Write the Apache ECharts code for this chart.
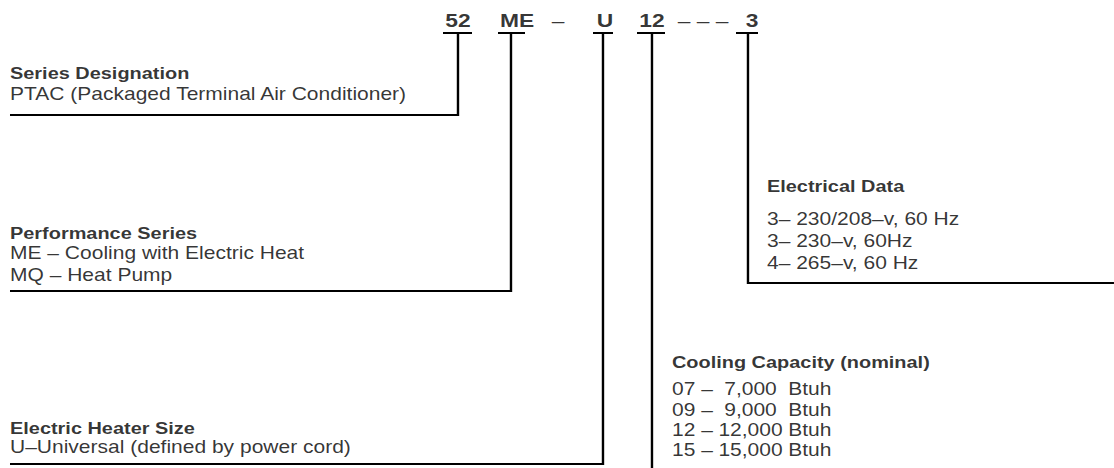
<!DOCTYPE html>
<html>
<head>
<meta charset="utf-8">
<title>PTAC model number nomenclature</title>
<script src="https://cdn.jsdelivr.net/npm/echarts@6/dist/echarts.min.js"></script>
<style>
  html, body { margin: 0; padding: 0; background: #fff; overflow: hidden; }
  #wrap { width: 1114px; height: 468px; overflow: hidden; }
  /* the source artwork is set a little wide, so the chart is drawn narrower and stretched */
  #main { width: 928px; height: 468px; transform: scaleX(1.2004); transform-origin: 0 0; }
</style>
</head>
<body>
<div id="wrap"><div id="main"></div></div>
<script>
// model number, top row
var codeParts = ['52', 'ME', '–', 'U', '12', '– – –', '3'];
var codeBold = [true, true, false, true, true, false, true];

// description blocks
var blockTitles = ['Series Designation', 'Performance Series', 'Electric Heater Size', 'Electrical Data', 'Cooling Capacity (nominal)'];
var seriesLines = ['PTAC (Packaged Terminal Air Conditioner)'];
var performanceLines = ['ME – Cooling with Electric Heat', 'MQ – Heat Pump'];
var heaterLines = ['U–Universal (defined by power cord)'];
var electricalLines = ['3– 230/208–v, 60 Hz', '3– 230–v, 60Hz', '4– 265–v, 60 Hz'];
var capacityCodes = ['07', '09', '12', '15'];
var capacityBtuh = ['7,000', '9,000', '12,000', '15,000'];

// ---- layout (axis units = page pixels) ----
var W = 1114, H = 468;
var FONT = '"Liberation Sans", Arial, Helvetica, sans-serif';
var BODY = 17.5, HEAD = 16.6;
var codeY = 20, barY = 33;
var codeX = [458, 517, 558, 605, 652, 703, 752];
var leaders = [
  { stem: 458, bar: [443, 472], elbow: 115, end: 10 },
  { stem: 511, bar: [498, 525], elbow: 291, end: 10 },
  { stem: 603, bar: [593, 613], elbow: 464, end: 10 },
  { stem: 652, bar: [637, 665], elbow: 472, end: 652 },
  { stem: 748, bar: [736, 758], elbow: 283, end: 1114 }
];
var blocks = [
  { x: 10, titleY: 73, lineY: [94] },
  { x: 10, titleY: 233, lineY: [253, 275] },
  { x: 10, titleY: 428, lineY: [447] },
  { x: 767, titleY: 186, lineY: [219, 241, 263] },
  { x: 672, titleY: 362, lineY: [389, 410, 430, 450] }
];

var capacityLines = capacityCodes.map(function (c, i) {
  return '{c|' + c + ' – }{v|' + capacityBtuh[i] + '}{c| Btuh}';
});
var blockLines = [seriesLines, performanceLines, heaterLines, electricalLines, capacityLines];

var leaderData = [];
leaders.forEach(function (l) {
  leaderData.push({ coords: [[l.bar[0], barY], [l.bar[1], barY]] });
  leaderData.push({ coords: [[l.stem, barY], [l.stem, l.elbow], [l.end, l.elbow]] });
});

var codeData = codeParts.map(function (p, i) {
  return { value: [codeX[i], codeY, p], label: { fontWeight: codeBold[i] ? 'bold' : 'normal' } };
});

var titleData = blockTitles.map(function (t, i) {
  return [blocks[i].x, blocks[i].titleY, t];
});
var lineData = [];
blockLines.forEach(function (lines, i) {
  lines.forEach(function (s, j) {
    lineData.push([blocks[i].x, blocks[i].lineY[j], s]);
  });
});

var chart = echarts.init(document.getElementById('main'), null, { renderer: 'svg' });

var textSeries = function (data, weight, size) {
  return {
    type: 'scatter',
    data: data,
    symbolSize: 0,
    silent: true,
    label: {
      show: true,
      position: 'right',
      distance: 0,
      color: '#000',
      fontFamily: FONT,
      fontSize: size,
      fontWeight: weight,
      formatter: function (p) { return p.value[2]; },
      rich: {
        c: { fontFamily: FONT, fontSize: size, color: '#000' },
        v: { fontFamily: FONT, fontSize: size, color: '#000', width: 53, align: 'right' }
      }
    }
  };
};

chart.setOption({
  animation: false,
  backgroundColor: '#fff',
  grid: { left: 0, right: 0, top: 0, bottom: 0 },
  xAxis: { type: 'value', min: 0, max: W, show: false },
  yAxis: { type: 'value', min: 0, max: H, inverse: true, show: false },
  series: [
    {
      type: 'lines',
      coordinateSystem: 'cartesian2d',
      polyline: true,
      silent: true,
      data: leaderData,
      lineStyle: { color: '#000', width: 2, opacity: 1 }
    },
    {
      type: 'scatter',
      data: codeData,
      symbolSize: 0,
      silent: true,
      label: {
        show: true,
        position: 'inside',
        color: '#000',
        fontFamily: FONT,
        fontSize: 19,
        formatter: function (p) { return p.value[2]; }
      }
    },
    textSeries(titleData, 'bold', HEAD),
    textSeries(lineData, 'normal', BODY)
  ]
});
</script>
</body>
</html>
